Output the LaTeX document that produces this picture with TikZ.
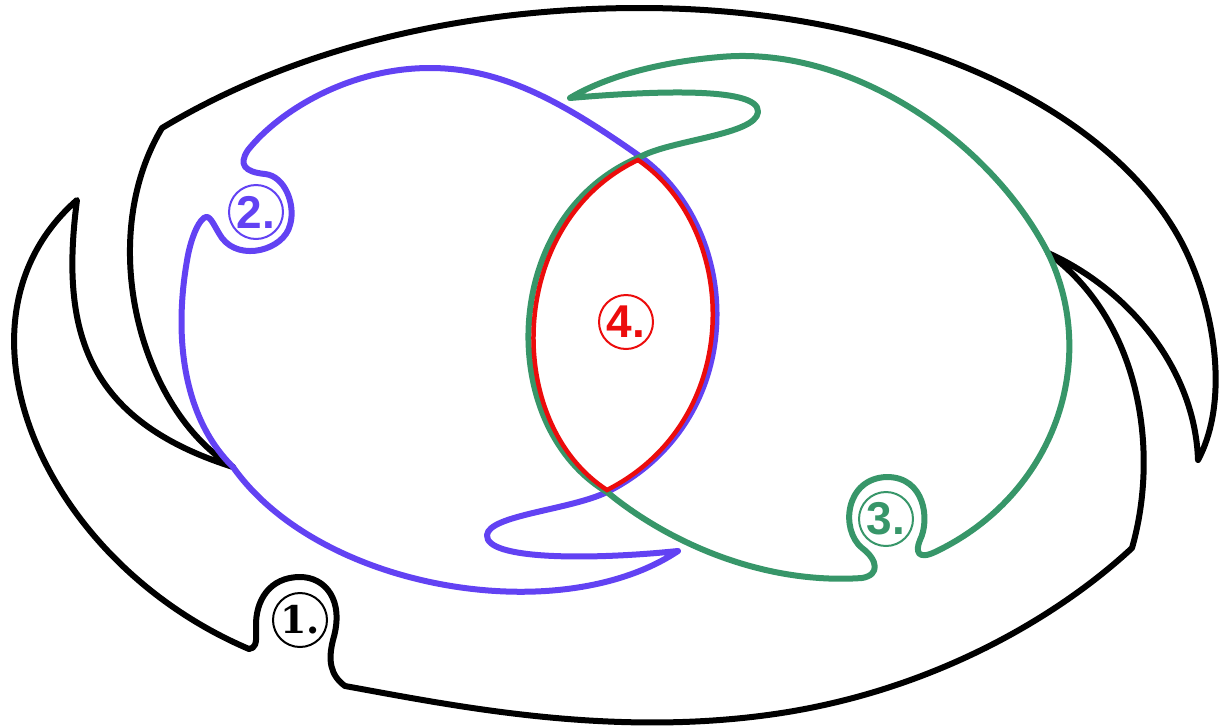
\documentclass[tikz,border=0pt]{standalone}
\usepackage{fontspec}
\usepackage{tikz}
\setsansfont{Liberation Sans}
\newfontfamily\slabfont{DejaVu Serif}
\definecolor{setblue}{RGB}{98,66,243}
\definecolor{setgreen}{RGB}{55,150,105}
\definecolor{setred}{RGB}{236,12,12}
\tikzset{
  outline/.style={line width=6pt, line join=round},
  tag/.style={draw, circle, line width=2pt, minimum size=54pt, inner sep=0pt,
    font=\sffamily\bfseries\fontsize{46}{46}\selectfont}
}

\begin{document}
\begin{tikzpicture}[x=1pt, y=-1pt]
    \useasboundingbox (0,0) rectangle (1226,726);

    % set 1
    \draw[outline, black] (162,128)
      .. controls (300,45) and (470,8) .. (640,8)
      .. controls (920,8) and (1130,120) .. (1190,260)
      .. controls (1220,330) and (1225,410) .. (1198,460)
      .. controls (1195,370) and (1130,290) .. (1048,253)
      .. controls (1140,320) and (1160,450) .. (1132,548)
      .. controls (1060,615) and (930,695) .. (760,716)
      .. controls (600,736) and (450,705) .. (345,686)
      .. controls (330,675) and (328,660) .. (333,640)
      .. controls (345,600) and (325,577) .. (300,577)
      .. controls (270,577) and (255,600) .. (256,628)
      .. controls (257,645) and (255,648) .. (249,649)
      .. controls (40,560) and (-60,320) .. (77,200)
      .. controls (60,330) and (85,420) .. (233,467)
      .. controls (140,410) and (95,240) .. (162,128)
      -- cycle;

    % set 2
    \draw[outline, setblue] (233,467)
      .. controls (320,590) and (560,630) .. (678,551)
      .. controls (590,560) and (485,560) .. (487,535)
      .. controls (489,515) and (570,510) .. (607,492)
      .. controls (750,420) and (745,230) .. (638,155)
      .. controls (560,100) and (500,68) .. (430,68)
      .. controls (350,68) and (280,110) .. (248,150)
      .. controls (238,165) and (245,172) .. (265,174)
      .. controls (285,176) and (296,205) .. (290,225)
      .. controls (284,250) and (240,262) .. (222,238)
      .. controls (215,228) and (211,216) .. (206,217)
      .. controls (200,218) and (192,235) .. (188,255)
      .. controls (172,340) and (185,420) .. (233,467)
      -- cycle;

    % set 3
    \draw[outline, setgreen] (570,98)
      .. controls (640,92) and (760,85) .. (758,112)
      .. controls (756,135) and (670,140) .. (640,157)
      .. controls (500,215) and (495,425) .. (607,492)
      .. controls (665,540) and (760,585) .. (862,578)
      .. controls (880,575) and (878,560) .. (862,548)
      .. controls (840,530) and (845,478) .. (887,477)
      .. controls (925,477) and (930,520) .. (920,540)
      .. controls (915,552) and (918,560) .. (935,552)
      .. controls (1055,495) and (1100,360) .. (1048,253)
      .. controls (990,140) and (850,45) .. (720,57)
      .. controls (650,63) and (600,80) .. (570,98)
      -- cycle;

    % set 4
    \draw[line width=4.5pt, setred, line join=miter] (638,160)
      .. controls (507,222) and (502,422) .. (607,490)
      .. controls (745,420) and (740,230) .. (638,160)
      -- cycle;

    \node[tag, black, font=\slabfont\bfseries\fontsize{38}{38}\selectfont] (one) at (300,620) {1.};
    \node[tag, setblue] (two) at (256,212) {2.};
    \node[tag, setgreen] (three) at (886,519) {3.};
    \node[tag, setred] (four) at (626,322) {4.};
\end{tikzpicture}
\end{document}
